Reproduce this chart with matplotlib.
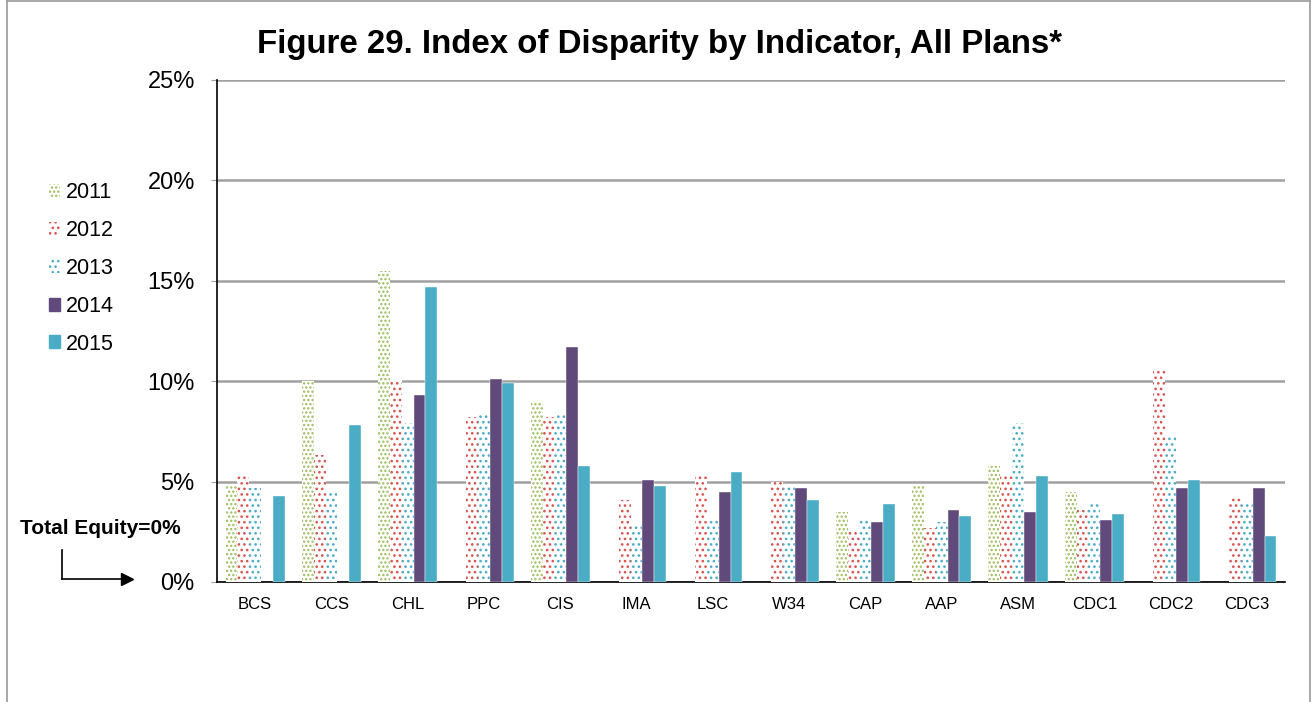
import matplotlib.pyplot as plt
import numpy as np
from matplotlib.lines import Line2D
from matplotlib.patches import Patch

plt.rcParams['font.family'] = ['Liberation Sans', 'DejaVu Sans']
plt.rcParams['hatch.linewidth'] = 1.1

# Values in percent, nan = no bar shown
indicators = ['BCS', 'CCS', 'CHL', 'PPC', 'CIS', 'IMA', 'LSC', 'W34',
              'CAP', 'AAP', 'ASM', 'CDC1', 'CDC2', 'CDC3']
years = ['2011', '2012', '2013', '2014', '2015']
nan = np.nan
v2011 = [4.8, 10.0, 15.5, nan, 8.9, nan, nan, nan, 3.5, 4.8, 5.8, 4.5, nan, nan]
v2012 = [5.3, 6.3, 10.1, 8.2, 8.2, 4.1, 5.3, 5.0, 2.6, 2.7, 5.4, 3.6, 10.5, 4.3]
v2013 = [4.7, 4.5, 7.9, 8.3, 8.3, 2.8, 3.1, 4.8, 3.2, 3.0, 7.9, 4.0, 7.2, 4.0]
v2014 = [nan, nan, 9.3, 10.1, 11.7, 5.1, 4.5, 4.7, 3.0, 3.6, 3.5, 3.1, 4.7, 4.7]
v2015 = [4.3, 7.8, 14.7, 9.9, 5.8, 4.8, 5.5, 4.1, 3.9, 3.3, 5.3, 3.4, 5.1, 2.3]

series = [v2011, v2012, v2013, v2014, v2015]
colors = ['#9BBB59', '#D9534F', '#4BACC6', '#604A7B', '#4BACC6']
hatches = ['....', '...', '...', None, None]

fig = plt.figure(figsize=(13.14, 7.02), dpi=100)
ax = fig.add_axes([217 / 1314, 1 - 582 / 702, 1068 / 1314, 502 / 702])

x = np.arange(len(indicators))
w = 0.155
for i, (vals, c, h) in enumerate(zip(series, colors, hatches)):
    pos = x + (i - 2) * w
    if h is None:
        ax.bar(pos, vals, w, color=c, edgecolor='white', linewidth=0.3, zorder=3)
    else:
        ax.bar(pos, vals, w, facecolor='white', edgecolor=c, hatch=h,
               linewidth=0, zorder=3)

ax.set_xlim(-0.5, len(indicators) - 0.5)
ax.set_ylim(0, 25)
ax.set_yticks([0, 5, 10, 15, 20, 25])
ax.set_yticklabels(['0%', '5%', '10%', '15%', '20%', '25%'], fontsize=17)
ax.set_xticks(x)
ax.set_xticklabels(indicators, fontsize=12)
ax.tick_params(axis='x', length=0, pad=11)
ax.tick_params(axis='y', length=4, color='#A0A0A0', pad=12)
ax.yaxis.grid(True, color='#A0A0A0', linewidth=1.8, zorder=0)
ax.set_axisbelow(True)
for s in ['top', 'right']:
    ax.spines[s].set_visible(False)
ax.spines['left'].set_linewidth(1.2)
ax.spines['bottom'].set_linewidth(1.2)

handles = []
for y, c, h in zip(years, colors, hatches):
    if h is None:
        handles.append(Patch(facecolor=c, edgecolor=c, label=y))
    else:
        handles.append(Patch(facecolor='white', edgecolor=c, hatch=h,
                             linewidth=0, label=y))
fig.legend(handles=handles, loc='upper left', bbox_to_anchor=(30 / 1314, 1 - 163 / 702),
           frameon=False, fontsize=15.5, handlelength=0.5, handleheight=0.55,
           handletextpad=0.25, labelspacing=0.78)

fig.text(0.502, 1 - 44 / 702, 'Figure 29. Index of Disparity by Indicator, All Plans*',
         ha='center', va='center', fontsize=23.8, fontweight='bold')
fig.text(20 / 1314, 1 - 529 / 702, 'Total Equity=0%', ha='left', va='center',
         fontsize=15, fontweight='bold')

# bent arrow pointing at the zero line
fig.add_artist(Line2D([62 / 1314, 62 / 1314], [1 - 550 / 702, 1 - 579 / 702],
                      color='black', linewidth=1.2))
fig.add_artist(Line2D([62 / 1314, 122 / 1314], [1 - 579 / 702, 1 - 579 / 702],
                      color='black', linewidth=1.2))
fig.add_artist(Line2D([127 / 1314], [1 - 579 / 702], marker='>', markersize=8,
                      color='black', linestyle='none'))

# outer frame
fc = '#9A9A9A'
fig.add_artist(Line2D([7 / 1314, 7 / 1314], [0, 1 - 1 / 702], color=fc, linewidth=1.2))
fig.add_artist(Line2D([7 / 1314, 1310 / 1314], [1 - 1 / 702, 1 - 1 / 702], color=fc, linewidth=1.2))
fig.add_artist(Line2D([1310 / 1314, 1310 / 1314], [0, 1 - 1 / 702], color=fc, linewidth=1.2))

fig.savefig('out.png', dpi=100)
